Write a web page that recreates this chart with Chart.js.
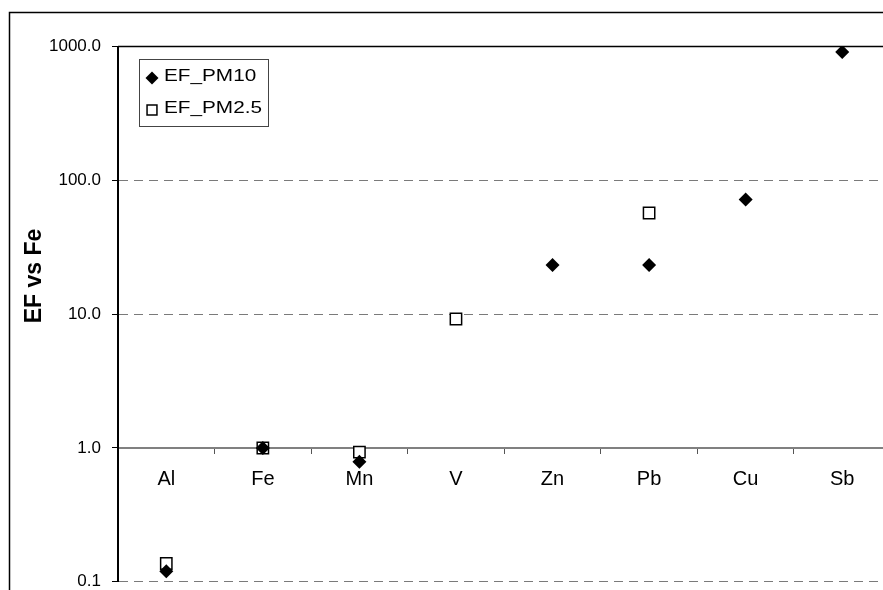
<!DOCTYPE html>
<html>
<head>
<meta charset="utf-8">
<script src="https://cdn.jsdelivr.net/npm/chart.js@4.4.1/dist/chart.umd.min.js"></script>
<style>
  html, body { margin: 0; padding: 0; background: #fff; overflow: hidden; width: 883px; height: 590px; }
  canvas { display: block; }
</style>
</head>
<body>
<canvas id="c" width="900" height="603" style="width:900px;height:603px"></canvas>
<script>
// Enrichment factors relative to Fe, per element
const elements = ['Al', 'Fe', 'Mn', 'V', 'Zn', 'Pb', 'Cu', 'Sb'];
const efPM10 = [0.12, 1.0, 0.79, null, 23.3, 23.3, 72, 910];
const efPM25 = [0.137, 1.0, 0.93, 9.2, null, 57, null, null];
const seriesNames = ['EF_PM10', 'EF_PM2.5'];
const yTickValues = [0.1, 1, 10, 100, 1000];
const yTitle = 'EF vs Fe';

const FONT = 'Liberation Sans, Arial, sans-serif';

// White page with the outer chart frame
const framePlugin = {
  id: 'frame',
  beforeDraw(chart) {
    const ctx = chart.ctx;
    ctx.save();
    ctx.fillStyle = '#fff';
    ctx.fillRect(0, 0, chart.width, chart.height);
    ctx.strokeStyle = '#000';
    ctx.lineWidth = 1.5;
    ctx.strokeRect(9.5, 12.5, chart.width + 20, chart.height + 20);
    ctx.restore();
  }
};

// Solid top edge of the plot at the highest decade
const topEdgePlugin = {
  id: 'topEdge',
  beforeDatasetsDraw(chart) {
    const { ctx, chartArea, scales } = chart;
    const y = scales.y.getPixelForValue(yTickValues[yTickValues.length - 1]);
    ctx.save();
    ctx.strokeStyle = '#000';
    ctx.lineWidth = 1.5;
    ctx.beginPath();
    ctx.moveTo(chartArea.left, y);
    ctx.lineTo(chartArea.right, y);
    ctx.stroke();
    ctx.restore();
  }
};

// Rotated y-axis title
const yTitlePlugin = {
  id: 'yTitle',
  afterDraw(chart) {
    const ctx = chart.ctx;
    ctx.save();
    ctx.translate(35, 276);
    ctx.rotate(-Math.PI / 2);
    ctx.font = 'bold 23px ' + FONT;
    ctx.fillStyle = '#000';
    ctx.textAlign = 'center';
    ctx.textBaseline = 'middle';
    ctx.fillText(yTitle, 0, 0);
    ctx.restore();
  }
};

// Boxed legend inside the plot, top-left
const boxLegendPlugin = {
  id: 'boxLegend',
  afterDraw(chart) {
    const ctx = chart.ctx;
    const box = { x: 139.5, y: 59.5, w: 129, h: 67 };
    ctx.save();
    ctx.fillStyle = '#fff';
    ctx.fillRect(box.x, box.y, box.w, box.h);
    ctx.strokeStyle = '#444';
    ctx.lineWidth = 1;
    ctx.strokeRect(box.x, box.y, box.w, box.h);
    const rows = [78, 110];
    chart.data.datasets.forEach((ds, i) => {
      const cy = rows[i];
      ctx.fillStyle = ds.pointBackgroundColor;
      ctx.strokeStyle = ds.pointBorderColor;
      ctx.lineWidth = ds.pointBorderWidth || 0;
      Chart.helpers.drawPoint(ctx, {
        pointStyle: ds.pointStyle,
        radius: i === 0 ? 6.5 : 7,
        rotation: 0,
        borderWidth: ds.pointBorderWidth || 0
      }, 152, cy);
      ctx.save();
      ctx.translate(164, cy - 2);
      ctx.scale(1.22, 1);
      ctx.font = '17px ' + FONT;
      ctx.fillStyle = '#000';
      ctx.textAlign = 'left';
      ctx.textBaseline = 'middle';
      ctx.fillText(ds.label, 0, 0);
      ctx.restore();
    });
    ctx.restore();
  }
};

new Chart(document.getElementById('c'), {
  type: 'line',
  data: {
    labels: elements,
    datasets: [
      {
        label: seriesNames[0],
        data: efPM10,
        showLine: false,
        pointStyle: 'rectRot',
        pointRadius: 7,
        pointHoverRadius: 7,
        pointBackgroundColor: '#000',
        pointBorderColor: '#000',
        pointBorderWidth: 0
      },
      {
        label: seriesNames[1],
        data: efPM25,
        showLine: false,
        pointStyle: 'rect',
        pointRadius: 8,
        pointHoverRadius: 8,
        pointBackgroundColor: '#fff',
        pointBorderColor: '#000',
        pointBorderWidth: 1.5
      }
    ]
  },
  options: {
    responsive: false,
    animation: false,
    devicePixelRatio: 1,
    events: [],
    layout: { padding: { left: 0, top: 46.5, right: 8, bottom: 0 } },
    plugins: {
      legend: { display: false },
      tooltip: { enabled: false }
    },
    scales: {
      x: {
        type: 'category',
        position: { y: 1 },
        offset: true,
        grid: {
          offset: true,
          drawOnChartArea: false,
          drawTicks: true,
          tickLength: 5,
          tickColor: '#555',
          tickWidth: 1
        },
        border: { display: true, color: '#808080', width: 2 },
        ticks: {
          color: '#000',
          font: { family: FONT, size: 20 },
          padding: 15,
          maxRotation: 0,
          autoSkip: false
        }
      },
      y: {
        type: 'logarithmic',
        position: 'left',
        min: 0.1,
        max: 1000,
        afterBuildTicks: (scale) => {
          scale.ticks = yTickValues.map(v => ({ value: v }));
        },
        afterFit: (scale) => { scale.width = 118; },
        grid: {
          color: (c) => (c.tick && (c.tick.value === 1 || c.tick.value === 1000)) ? 'rgba(0,0,0,0)' : '#7a7a7a',
          lineWidth: 1,
          drawTicks: true,
          tickLength: 6,
          tickColor: '#000',
          tickWidth: 1
        },
        border: { display: true, color: '#000', width: 2, dash: [9, 6] },
        ticks: {
          color: '#000',
          font: { family: FONT, size: 17 },
          padding: 11,
          callback: (v) => Number(v).toFixed(1)
        }
      }
    }
  },
  plugins: [framePlugin, topEdgePlugin, yTitlePlugin, boxLegendPlugin]
});
</script>
</body>
</html>
